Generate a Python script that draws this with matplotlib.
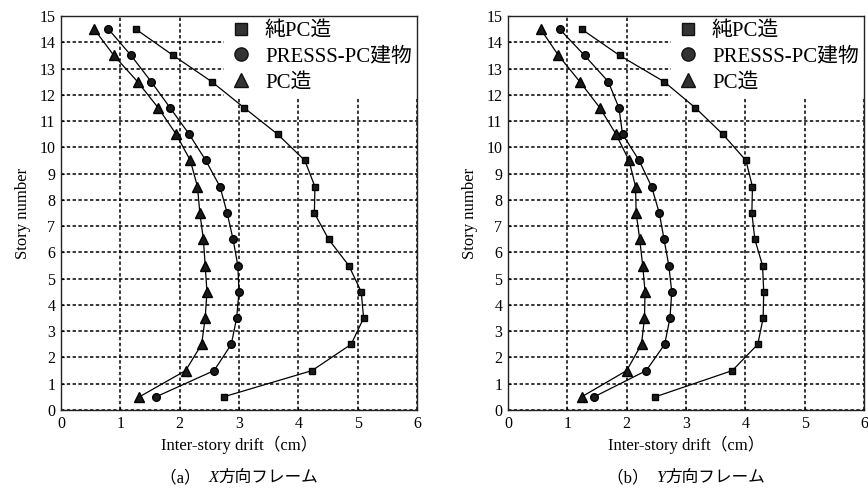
import matplotlib
matplotlib.use("Agg")
import matplotlib.pyplot as plt
from matplotlib.lines import Line2D
from matplotlib.offsetbox import TextArea, HPacker, AnnotationBbox

plt.rcParams['font.family'] = ['Liberation Serif', 'Noto Sans CJK JP']

stories = [0.5, 1.5, 2.5, 3.5, 4.5, 5.5, 6.5, 7.5, 8.5, 9.5, 10.5, 11.5, 12.5, 13.5, 14.5]

# Panel (a) X direction
a_pure_pc = [2.74, 4.23, 4.89, 5.10, 5.06, 4.85, 4.51, 4.27, 4.28, 4.11, 3.65, 3.09, 2.54, 1.89, 1.26]
a_presss = [1.60, 2.58, 2.87, 2.96, 3.00, 2.98, 2.90, 2.80, 2.68, 2.44, 2.16, 1.84, 1.52, 1.18, 0.80]
a_pc = [1.32, 2.10, 2.37, 2.43, 2.46, 2.43, 2.40, 2.34, 2.30, 2.18, 1.94, 1.64, 1.29, 0.89, 0.56]

# Panel (b) Y direction
b_pure_pc = [2.48, 3.78, 4.21, 4.30, 4.31, 4.29, 4.16, 4.11, 4.12, 4.01, 3.62, 3.16, 2.63, 1.88, 1.24]
b_presss = [1.45, 2.33, 2.64, 2.73, 2.76, 2.71, 2.63, 2.55, 2.42, 2.21, 1.93, 1.87, 1.69, 1.29, 0.87]
b_pc = [1.24, 2.00, 2.25, 2.30, 2.31, 2.27, 2.22, 2.16, 2.15, 2.04, 1.82, 1.55, 1.21, 0.85, 0.55]

series_labels = ['純PC造', 'PRESSS-PC建物', 'PC造']
x_ticks = [0, 1, 2, 3, 4, 5, 6]
y_ticks = list(range(0, 16))
xlabel = 'Inter-story drift（cm）'
ylabel = 'Story number'
caption_prefix = ['（a）  ', '（b）  ']
caption_axis = ['X', 'Y']
caption_suffix = ['方向フレーム', '方向フレーム']

markers = ['s', 'o', '^']
msizes = [5, 5.5, 6.5]

fig = plt.figure(figsize=(8.68, 4.95), dpi=100)
ax_a = fig.add_axes([61/868, 85/495, 356/868, 394/495])
ax_b = fig.add_axes([508/868, 85/495, 356/868, 394/495])

panels = [(ax_a, [a_pure_pc, a_presss, a_pc]), (ax_b, [b_pure_pc, b_presss, b_pc])]

for i, (ax, data) in enumerate(panels):
    ax.set_xlim(0, 6)
    ax.set_ylim(0, 15)
    ax.set_xticks(x_ticks)
    ax.set_yticks(y_ticks)
    ax.tick_params(direction='in', length=2, labelsize=11.5, pad=4, width=0.8)
    ax.grid(True, color='black', linestyle=(0, (2.2, 1.6)), linewidth=1.1)
    ax.set_axisbelow(True)
    for sp in ax.spines.values():
        sp.set_linewidth(1.0)
        sp.set_color('#222222')
        sp.set_zorder(7)
    for vals, mk, ms in zip(data, markers, msizes):
        ax.plot(vals, stories, color='black', linewidth=0.9, marker=mk,
                markersize=ms, markerfacecolor='#1a1a1a', markeredgecolor='black', zorder=6)
    ax.set_xlabel(xlabel, fontsize=12, labelpad=3)
    ax.set_ylabel(ylabel, fontsize=12, labelpad=6)
    handles = [Line2D([], [], linestyle='none', marker=mk, markersize=ms + 4,
                      markerfacecolor='#333333', markeredgecolor='#111111')
               for mk, ms in zip(markers, msizes)]
    leg = ax.legend(handles, series_labels, loc='upper right', bbox_to_anchor=(1.0, 1.0),
                    borderaxespad=0.0, frameon=True, fancybox=False, framealpha=1.0,
                    edgecolor='none', facecolor='white', fontsize=15,
                    handletextpad=0.6, labelspacing=0.3, handlelength=1.1,
                    borderpad=0.25)
    leg.set_zorder(5)

    # caption with italic axis letter
    props = dict(fontsize=12, family=['Liberation Serif', 'Noto Sans CJK JP'])
    t1 = TextArea(caption_prefix[i], textprops=props)
    t2 = TextArea(caption_axis[i], textprops=dict(fontsize=12, family='Liberation Serif', style='italic'))
    t3 = TextArea(caption_suffix[i], textprops=props)
    box = HPacker(children=[t1, t2, t3], align='baseline', pad=0, sep=0)
    bb = ax.get_position()
    ab = AnnotationBbox(box, ((bb.x0 + bb.x1) / 2, (495 - 478) / 495), xycoords='figure fraction',
                        frameon=False, box_alignment=(0.5, 0.5), pad=0)
    fig.add_artist(ab)

fig.savefig('out.png', dpi=100)
